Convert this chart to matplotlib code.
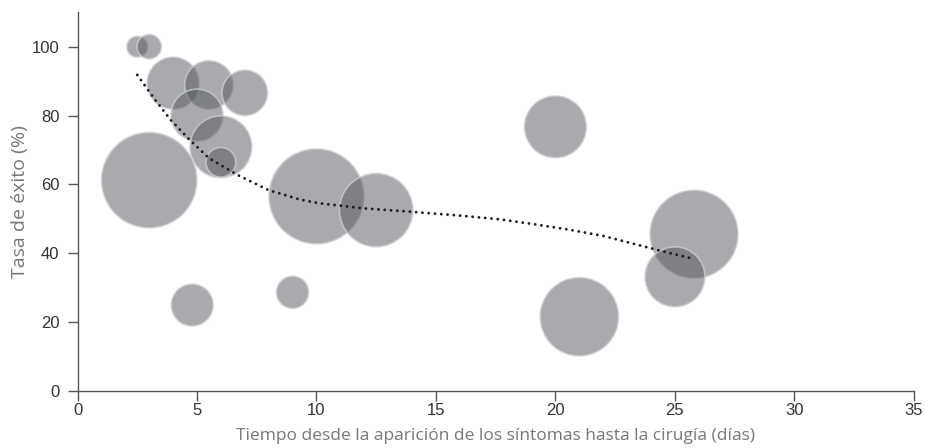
import numpy as np
import matplotlib.pyplot as plt

# bubble data: days to surgery, success rate (%), relative study size
dias = [2.5, 3.0, 4.0, 5.5, 7.0, 5.0, 6.0, 6.0, 3.0, 4.8, 9.0, 10.0, 12.5, 20.0, 21.0, 25.8, 25.0]
exito = [100, 100, 89.4, 88.9, 86.6, 80.1, 70.9, 66.4, 61.2, 24.9, 28.6, 56.5, 52.5, 76.7, 21.5, 45.5, 33.1]
tamano = [11, 15, 68, 59, 52, 68, 96, 22, 228, 44, 26, 226, 135, 96, 154, 194, 90]

# trend line
tend_x = [2.5, 3.2, 3.9, 4.7, 5.5, 6.7, 8.0, 9.3, 10.1, 12.0, 14.0, 16.0, 17.7, 19.0,
          20.5, 22.0, 23.5, 24.5, 25.8]
tend_y = [91.8, 85.0, 78.7, 72.9, 67.6, 62.7, 58.3, 55.6, 54.5, 53.0, 52.0, 50.9, 49.8, 48.5,
          46.9, 45.0, 42.3, 40.5, 38.3]

xticks = [0, 5, 10, 15, 20, 25, 30, 35]
yticks = [0, 20, 40, 60, 80, 100]

fig = plt.figure(figsize=(9.25, 4.48), dpi=100)
ax = fig.add_axes([0.0838, 0.1279, 0.9042, 0.8446])

s = np.array(tamano) * 20.7
ax.scatter(dias, exito, s=s, facecolor=(0.33, 0.34, 0.37, 0.5),
           edgecolor=(0.82, 0.82, 0.84, 0.7), linewidth=1.2, zorder=2)
ax.plot(tend_x, tend_y, color="#1e1e1e", lw=2.1, linestyle=(0, (0.01, 2.15)),
        dash_capstyle="round", zorder=3)

ax.set_xlim(0, 35)
ax.set_ylim(0, 110)
ax.set_xticks(xticks)
ax.set_yticks(yticks)
for sp in ["top", "right"]:
    ax.spines[sp].set_visible(False)
for sp in ["left", "bottom"]:
    ax.spines[sp].set_color("#555555")
    ax.spines[sp].set_linewidth(1.0)
ax.tick_params(direction="out", length=7, width=1.0, color="#555555",
               labelsize=12, labelcolor="#333333")
ax.tick_params(axis="x", pad=2)
ax.tick_params(axis="y", pad=6)
for lab in ax.get_xticklabels() + ax.get_yticklabels():
    lab.set_family("Liberation Sans")

ax.set_xlabel("Tiempo desde la aparición de los síntomas hasta la cirugía (días)",
              fontsize=12.5, color="#777777", family="Open Sans", labelpad=7)
ax.set_ylabel("Tasa de éxito (%)", fontsize=14, color="#777777", family="Open Sans",
              labelpad=2)

plt.savefig("out.png", dpi=100)
